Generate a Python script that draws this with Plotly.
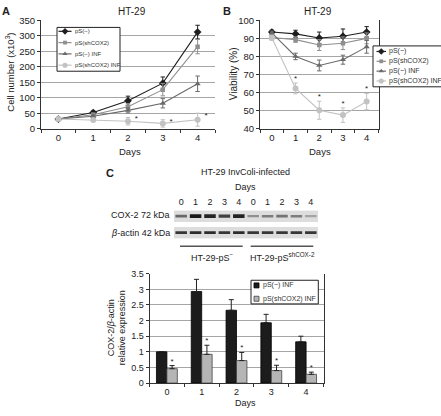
import plotly.graph_objects as go

W, H = 441, 416
FONT = "Liberation Sans, Arial, sans-serif"
TXT = "#222222"

# ---------------- data ----------------
days = [0, 1, 2, 3, 4]
day_labels = ["0", "1", "2", "3", "4"]
series_names = ["pS(−)", "pS(shCOX2)", "pS(−) INF", "pS(shCOX2) INF"]

# Panel A: cell number (x10^3)
cells_ps = [31, 52, 90, 147, 312]
cells_ps_err = [3, 5, 15, 20, 22]
cells_sh = [31, 45, 71, 126, 265]
cells_sh_err = [3, 5, 10, 20, 23]
cells_psinf = [31, 40, 59, 82, 145]
cells_psinf_err = [3, 4, 8, 15, 25]
cells_shinf = [31, 28, 24, 17, 29]
cells_shinf_err = [3, 5, 12, 12, 21]
cells_star_days = [2, 3, 4]

# Panel B: viability (%)
via_ps = [93.5, 92.5, 90.2, 91.2, 93.5]
via_ps_err = [1, 2, 3.3, 4, 3]
via_sh = [90.5, 89.3, 86.3, 87.3, 90]
via_sh_err = [1, 1.5, 3, 3.5, 3]
via_psinf = [93, 80, 75, 78.2, 85.3]
via_psinf_err = [1, 1.8, 3, 2.5, 3.5]
via_shinf = [90.3, 62.3, 50.2, 47.5, 55]
via_shinf_err = [1.5, 3, 5, 4, 4.5]
via_star_days = [1, 2, 3, 4]

# Panel C: western blot (band intensities, 0..1)
lane_labels = ["0", "1", "2", "3", "4", "0", "1", "2", "3", "4"]
cox2_band = [0.55, 0.95, 0.9, 0.75, 0.9, 0.35, 0.45, 0.5, 0.45, 0.25]
actin_band = [0.8, 0.85, 0.85, 0.8, 0.85, 0.8, 0.8, 0.8, 0.8, 0.8]
blot_rows = ["COX-2 72 kDa", "<i>β</i>-actin 42 kDa"]
blot_groups = ["HT-29-pS<sup>−</sup>", "HT-29-pS<sup>shCOX-2</sup>"]

# Panel C: COX-2/beta-actin relative expression
expr_names = ["pS(−) INF", "pS(shCOX2) INF"]
expr_ps_inf = [1.0, 2.93, 2.33, 1.93, 1.32]
expr_ps_inf_err = [0, 0.39, 0.34, 0.27, 0.18]
expr_sh_inf = [0.46, 0.92, 0.72, 0.40, 0.28]
expr_sh_inf_err = [0.10, 0.29, 0.26, 0.17, 0.07]
expr_star_days = [0, 1, 2, 3, 4]

# ---------------- styles ----------------
styles = [
    dict(color="#1e1e1e", symbol="diamond", size=6),
    dict(color="#8f8f8f", symbol="square", size=4.5),
    dict(color="#6a6a6a", symbol="triangle-up", size=5.5),
    dict(color="#c2c2c2", symbol="circle", size=6),
]


def py(y):
    return 1 - y / H


fig = go.Figure()


def add_lines(vals, errs, xa, ya):
    for name, v, e, st in zip(series_names, vals, errs, styles):
        fig.add_trace(go.Scatter(
            x=days, y=v, name=name, xaxis=xa, yaxis=ya, mode="lines+markers",
            line=dict(color=st["color"], width=1.1),
            marker=dict(color=st["color"], symbol=st["symbol"], size=st["size"], line=dict(width=0)),
            error_y=dict(type="data", array=e, visible=True, color=st["color"], thickness=1, width=2.2),
            showlegend=False, hoverinfo="skip"))


add_lines([cells_ps, cells_sh, cells_psinf, cells_shinf],
          [cells_ps_err, cells_sh_err, cells_psinf_err, cells_shinf_err], "x", "y")
add_lines([via_ps, via_sh, via_psinf, via_shinf],
          [via_ps_err, via_sh_err, via_psinf_err, via_shinf_err], "x2", "y2")

# stars A (right of light series)
fig.add_trace(go.Scatter(
    x=[d + 0.24 for d in cells_star_days],
    y=[cells_shinf[d] + cells_shinf_err[d] / 2 for d in cells_star_days],
    mode="text", text=["*"] * len(cells_star_days), textposition="middle center",
    textfont=dict(size=8, color=TXT, family=FONT), xaxis="x", yaxis="y",
    showlegend=False, hoverinfo="skip"))
# stars B (above light series)
fig.add_trace(go.Scatter(
    x=via_star_days,
    y=[via_shinf[d] + via_shinf_err[d] for d in via_star_days],
    mode="text", text=["*"] * len(via_star_days), textposition="top center",
    textfont=dict(size=8, color=TXT, family=FONT), xaxis="x2", yaxis="y2",
    showlegend=False, hoverinfo="skip"))

# ---- bar chart C ----
BW = 0.3
fig.add_trace(go.Bar(
    x=days, y=expr_ps_inf, width=BW, offset=-BW, name=expr_names[0], xaxis="x3", yaxis="y3",
    marker=dict(color="#1c1c1c", line=dict(color="#000", width=0.8)),
    error_y=dict(type="data", symmetric=False, array=expr_ps_inf_err, arrayminus=[0] * 5,
                 color="#222", thickness=1, width=2.5),
    showlegend=False, hoverinfo="skip"))
fig.add_trace(go.Bar(
    x=days, y=expr_sh_inf, width=BW, offset=0, name=expr_names[1], xaxis="x3", yaxis="y3",
    marker=dict(color="#b5b5b5", line=dict(color="#444", width=0.8)),
    error_y=dict(type="data", symmetric=False, array=expr_sh_inf_err, arrayminus=[0] * 5,
                 color="#222", thickness=1, width=2.5),
    showlegend=False, hoverinfo="skip"))
fig.add_trace(go.Scatter(
    x=[d + BW / 2 for d in expr_star_days],
    y=[expr_sh_inf[d] + expr_sh_inf_err[d] for d in expr_star_days],
    mode="text", text=["*"] * 5, textposition="top center",
    textfont=dict(size=8, color=TXT, family=FONT), xaxis="x3", yaxis="y3",
    showlegend=False, hoverinfo="skip"))

# ---- blot ----
lanes = list(range(len(lane_labels)))
for row, band in enumerate([cox2_band, actin_band]):
    thick = [(0.09 + 0.14 * i) if row == 0 else 0.16 for i in band]
    cols = ["rgb({0},{0},{0})".format(int(215 - 200 * i)) for i in band]
    fig.add_trace(go.Bar(
        x=lanes, y=thick, base=[row - t / 2 for t in thick], width=0.8,
        marker=dict(color=cols, line=dict(width=0)), xaxis="x4", yaxis="y4",
        showlegend=False, hoverinfo="skip"))

shapes = []
for row in range(2):
    shapes.append(dict(type="rect", xref="x4", yref="y4", x0=-0.5, x1=9.5,
                       y0=row - 0.35, y1=row + 0.35, fillcolor="#dddddd",
                       line=dict(width=0), layer="below"))
# group underlines (pixel overlay)
shapes.append(dict(type="line", xref="x5", yref="y5", x0=180, x1=242.7, y0=246.7, y1=246.7,
                   line=dict(color="#555", width=1.5)))
shapes.append(dict(type="line", xref="x5", yref="y5", x0=250.7, x1=313.3, y0=246.7, y1=246.7,
                   line=dict(color="#555", width=1.5)))

# ---------------- custom legends (pixel overlay x5/y5) ----------------
annotations = []


def legend_box(x0, y0, x1, y1, lc="#222"):
    fig.add_trace(go.Scatter(
        x=[x0, x1, x1, x0, x0], y=[y0, y0, y1, y1, y0], mode="lines", fill="toself",
        fillcolor="white", line=dict(color=lc, width=1), xaxis="x5", yaxis="y5",
        showlegend=False, hoverinfo="skip"))


def line_legend(box, y_first, dy, xl0, xl1, xt, fs, msize_scale):
    legend_box(*box)
    for k, (name, st) in enumerate(zip(series_names, styles)):
        yy = y_first + k * dy
        fig.add_trace(go.Scatter(
            x=[xl0, xl1], y=[yy, yy], mode="lines", line=dict(color=st["color"], width=1.2),
            xaxis="x5", yaxis="y5", showlegend=False, hoverinfo="skip"))
        fig.add_trace(go.Scatter(
            x=[(xl0 + xl1) / 2], y=[yy], mode="markers",
            marker=dict(color=st["color"], symbol=st["symbol"], size=st["size"] * msize_scale),
            xaxis="x5", yaxis="y5", showlegend=False, hoverinfo="skip"))
        annotations.append(dict(x=xt, y=yy, xref="x5", yref="y5", text=name, showarrow=False,
                                xanchor="left", yanchor="middle",
                                font=dict(size=fs, color="#333", family=FONT)))


line_legend((57, 22, 120, 67), 26, 11.6, 58.5, 71.5, 72.5, 6, 0.85)
line_legend((373, 41, 441.5, 83), 46.7, 10.1, 376.5, 386, 386.5, 7, 0.85)

# bar legend C
legend_box(251, 281.7, 318.3, 306)
for k, (name, fc, lc) in enumerate(zip(expr_names, ["#1c1c1c", "#b5b5b5"], ["#000", "#444"])):
    yy = 287 + k * 13.7
    fig.add_trace(go.Scatter(
        x=[256.5], y=[yy], mode="markers",
        marker=dict(symbol="square", size=5, color=fc, line=dict(color=lc, width=0.8)),
        xaxis="x5", yaxis="y5", showlegend=False, hoverinfo="skip"))
    annotations.append(dict(x=260.5, y=yy, xref="x5", yref="y5", text=name, showarrow=False,
                            xanchor="left", yanchor="middle",
                            font=dict(size=7, color="#333", family=FONT)))


def ann(x, y, text, size=9.5, bold=False, angle=0, xanchor="center"):
    annotations.append(dict(x=x, y=y, xref="x5", yref="y5", showarrow=False,
                            text=("<b>%s</b>" % text) if bold else text,
                            textangle=angle, xanchor=xanchor, yanchor="middle",
                            font=dict(size=size, color=TXT, family=FONT)))


ann(5.5, 5, "A", 11, bold=True)
ann(132, 5.5, "HT-29", 10)
ann(10.5, 68, "Cell number (x10<sup>3</sup>)", 9.5, angle=-90)
ann(129.5, 149, "Days", 9.5)

ann(226.5, 5, "B", 11, bold=True)
ann(317.5, 5.5, "HT-29", 10)
ann(233, 70, "Viability (%)", 10, angle=-90)
ann(320, 149, "Days", 9.5)

ann(110, 171.7, "C", 11, bold=True)
ann(245, 170, "HT-29 InvColi-infected", 9)
ann(245, 186, "Days", 9)
ann(171.5, 215, blot_rows[0], 9, xanchor="right")
ann(171.5, 233.3, blot_rows[1], 9, xanchor="right")
ann(212, 258.3, blot_groups[0], 9)
ann(282.5, 258.3, blot_groups[1], 9)
ann(117, 331, "COX-2/<i>β</i>-actin<br>relative expression", 9, angle=-90)
ann(245, 408, "Days", 9)

# ---------------- axes ----------------
boundaries = [-0.5, 0.5, 1.5, 2.5, 3.5, 4.5]
AX = "#333333"
GRID = "#a6a6a6"


def xcat(domain, anchor, fs):
    return dict(domain=domain, anchor=anchor, range=[-0.5, 4.5], tickmode="array",
                tickvals=days, ticktext=day_labels, ticks="", showgrid=False, zeroline=False,
                showline=True, linecolor=AX, linewidth=1,
                tickfont=dict(size=fs, color=TXT, family=FONT),
                minor=dict(tickmode="array", tickvals=boundaries, ticks="outside", ticklen=3,
                           tickcolor=AX, showgrid=False),
                fixedrange=True)


def yval(domain, anchor, rng, dtick, fs, mirror):
    return dict(domain=domain, anchor=anchor, range=rng, dtick=dtick, ticks="outside",
                ticklen=3, tickcolor=AX, showgrid=True, gridcolor=GRID, gridwidth=1,
                zeroline=False, showline=True, linecolor=AX, linewidth=1, mirror=mirror,
                tickfont=dict(size=fs, color=TXT, family=FONT), fixedrange=True)


layout = dict(
    width=W, height=H, margin=dict(l=0, r=0, t=0, b=0),
    paper_bgcolor="white", plot_bgcolor="rgba(0,0,0,0)",
    font=dict(family=FONT, color=TXT), showlegend=False, barmode="overlay",
    xaxis=xcat([41 / W, 215 / W], "y", 9.5),
    yaxis=yval([py(126), py(14.7)], "x", [0, 350], 50, 9.5, False),
    xaxis2=xcat([260 / W, 378.5 / W], "y2", 9.5),
    yaxis2=yval([py(126), py(14.7)], "x2", [40, 100], 10, 9.5, True),
    xaxis3=xcat([149.5 / W, 323.5 / W], "y3", 9),
    yaxis3=yval([py(387.3), py(275)], "x3", [0, 3.5], 0.5, 9, True),
    xaxis4=dict(domain=[174 / W, 318 / W], anchor="y4", range=[-0.5, 9.5], side="top",
                tickmode="array", tickvals=lanes, ticktext=lane_labels, ticks="outside",
                ticklen=1, tickcolor="rgba(0,0,0,0)", showgrid=False, zeroline=False,
                showline=False, tickfont=dict(size=9, color=TXT, family=FONT), fixedrange=True),
    yaxis4=dict(domain=[py(239), py(210)], anchor="x4", range=[1.362, -0.344], visible=False,
                fixedrange=True),
    xaxis5=dict(domain=[0, 1], anchor="y5", range=[0, W], visible=False, fixedrange=True),
    yaxis5=dict(domain=[0, 1], anchor="x5", range=[H, 0], visible=False, fixedrange=True),
    shapes=shapes, annotations=annotations,
)
fig.update_layout(**layout)
fig.write_html("out.html", config={"displayModeBar": False},
               post_script="document.body.style.margin='0';document.body.style.padding='0';")
